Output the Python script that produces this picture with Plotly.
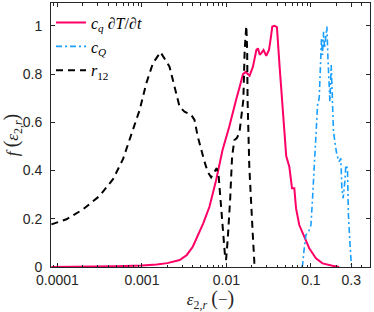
import math
import plotly.graph_objects as go

# ---- data ----
pink_x = [8.5e-5, 0.0002, 0.0005, 0.001, 0.0015, 0.002, 0.0028, 0.0034, 0.004, 0.0053,
          0.0063, 0.00755, 0.009, 0.0108, 0.012, 0.013, 0.01436, 0.0157, 0.0169, 0.0178,
          0.0188, 0.0206, 0.0226, 0.0236, 0.0248, 0.0259, 0.0275, 0.0296, 0.0319, 0.0335,
          0.0349, 0.0371, 0.0396, 0.0426, 0.0467, 0.051, 0.0555, 0.0597, 0.0636, 0.0666,
          0.0728, 0.0834, 0.0955, 0.1146, 0.137, 0.18, 0.216]
pink_y = [0, 0.001, 0.003, 0.006, 0.01, 0.016, 0.029, 0.05, 0.084, 0.18,
          0.25, 0.36, 0.485, 0.582, 0.651, 0.693, 0.748, 0.80, 0.809, 0.80,
          0.793, 0.831, 0.90, 0.907, 0.88, 0.887, 0.90, 0.876, 0.90, 0.95,
          0.997, 1.0, 0.995, 0.831, 0.624, 0.46, 0.416, 0.327, 0.327, 0.244,
          0.174, 0.126, 0.078, 0.036, 0.015, 0.005, 0.0]

blue_x = [0.078, 0.0796, 0.0834, 0.0873, 0.0938, 0.1, 0.1045, 0.1094, 0.1146, 0.1198,
          0.1253, 0.1288, 0.1334, 0.1371, 0.141, 0.1448, 0.1503, 0.1546, 0.1589, 0.1633,
          0.1677, 0.1738, 0.1784, 0.1849, 0.1919, 0.2027, 0.2158, 0.2259, 0.2322, 0.2405,
          0.2518, 0.2588, 0.2704, 0.2778, 0.2888, 0.301]
blue_y = [0.0, 0.008, 0.078, 0.133, 0.146, 0.174, 0.285, 0.423, 0.561, 0.672,
          0.70, 0.838, 0.949, 0.88, 0.976, 0.907, 0.963, 0.997, 0.866, 0.769,
          0.686, 0.838, 0.70, 0.561, 0.52, 0.465, 0.437, 0.451, 0.327, 0.285,
          0.354, 0.423, 0.409, 0.216, 0.105, 0.008]

black_x = [8.5e-5, 0.000128, 0.000201, 0.000316, 0.000455, 0.000597, 0.00075, 0.00094,
           0.001127, 0.00135, 0.00166, 0.00212, 0.00279, 0.00319, 0.00383, 0.00419,
           0.00458, 0.00501, 0.0055, 0.0060, 0.00659, 0.00721, 0.00768, 0.0081,
           0.00865, 0.00904, 0.00964, 0.0099, 0.01035, 0.01106, 0.01167, 0.01242,
           0.01323, 0.01423, 0.01531, 0.01586, 0.01644, 0.0172, 0.0176, 0.0178,
           0.01866, 0.01958, 0.02047, 0.02142, 0.0218]
black_y = [0.177, 0.198, 0.239, 0.295, 0.364, 0.447, 0.55, 0.651,
           0.762, 0.845, 0.891, 0.831, 0.665, 0.644, 0.631, 0.61,
           0.541, 0.485, 0.437, 0.395, 0.372, 0.395, 0.41, 0.375,
           0.25, 0.14, 0.043, 0.029, 0.112, 0.278, 0.458, 0.527,
           0.534, 0.555, 0.651, 0.693, 0.90, 1.0, 0.9, 0.693,
           0.416, 0.25, 0.14, 0.017, 0.0]

x_tickvals = [0.0001, 0.001, 0.01, 0.1, 0.3]
x_ticktext = ["0.0001", "0.001", "0.01", "0.1", "0.3"]
y_tickvals = [0, 0.2, 0.4, 0.6, 0.8, 1]
y_ticktext = ["0", "0.2", "0.4", "0.6", "0.8", "1"]
minor_vals = [m * 10.0 ** e for e in range(-5, 0) for m in range(2, 10)]

names = ["<i>c<sub>q</sub></i> ∂<i>T</i>/∂<i>t</i>", "<i>c<sub>Q</sub></i>", "<i>r</i><sub>12</sub>"]
x_title = "<i>ε</i><sub>2,<i>r</i></sub> <span style='font-size:20px'>(</span>−<span style='font-size:20px'>)</span>"
y_title = "<i>f</i> <span style='font-size:20px'>(</span><i>ε</i><sub>2,<i>r</i></sub><span style='font-size:20px'>)</span>"

AX = "#262626"

fig = go.Figure()
fig.add_trace(go.Scatter(x=pink_x, y=pink_y, mode="lines", name=names[0],
                         line=dict(color="#ff0066", width=2)))
fig.add_trace(go.Scatter(x=blue_x, y=blue_y, mode="lines", name=names[1],
                         line=dict(color="#1a9fff", width=1.6, dash="6px,3px,2px,3px")))
fig.add_trace(go.Scatter(x=black_x, y=black_y, mode="lines", name=names[2],
                         line=dict(color="black", width=2, dash="7px,5px")))

fig.update_layout(
    template="none",
    width=374, height=312,
    margin=dict(l=51, r=3.5, t=3, b=45, autoexpand=False),
    paper_bgcolor="white", plot_bgcolor="white",
    showlegend=True,
    legend=dict(x=0.0, y=0.99, xanchor="left", yanchor="top",
                bgcolor="rgba(0,0,0,0)", borderwidth=0,
                font=dict(family="Liberation Serif", size=16, color="black"),
                tracegroupgap=0, itemwidth=30),
    font=dict(family="Liberation Sans", size=14, color=AX),
)
fig.update_xaxes(
    type="log", range=[math.log10(8.4e-5), math.log10(0.5)],
    automargin=False,
    tickvals=x_tickvals, ticktext=x_ticktext,
    ticks="inside", ticklen=4, tickcolor=AX, tickwidth=1,
    showline=True, linecolor=AX, linewidth=1, mirror="allticks",
    showgrid=False, zeroline=False,
    minor=dict(tickvals=minor_vals, ticks="inside", ticklen=2.5, tickcolor=AX, showgrid=False),
    title=dict(text=x_title, standoff=4,
               font=dict(family="Liberation Serif", size=17, color=AX)),
    tickfont=dict(family="Liberation Sans", size=14, color=AX),
)
fig.update_yaxes(
    range=[0, 1.095],
    automargin=False,
    tickvals=y_tickvals, ticktext=y_ticktext,
    ticks="inside", ticklen=4, tickcolor=AX, tickwidth=1,
    ticklabelstandoff=5,
    showline=True, linecolor=AX, linewidth=1, mirror="allticks",
    showgrid=False, zeroline=False,
    title=dict(text=y_title, standoff=4,
               font=dict(family="Liberation Serif", size=17, color=AX)),
    tickfont=dict(family="Liberation Sans", size=14, color=AX),
)
fig.write_html("out.html", config={"displayModeBar": False},
               post_script="document.body.style.margin='0';document.body.style.overflow='hidden';")
